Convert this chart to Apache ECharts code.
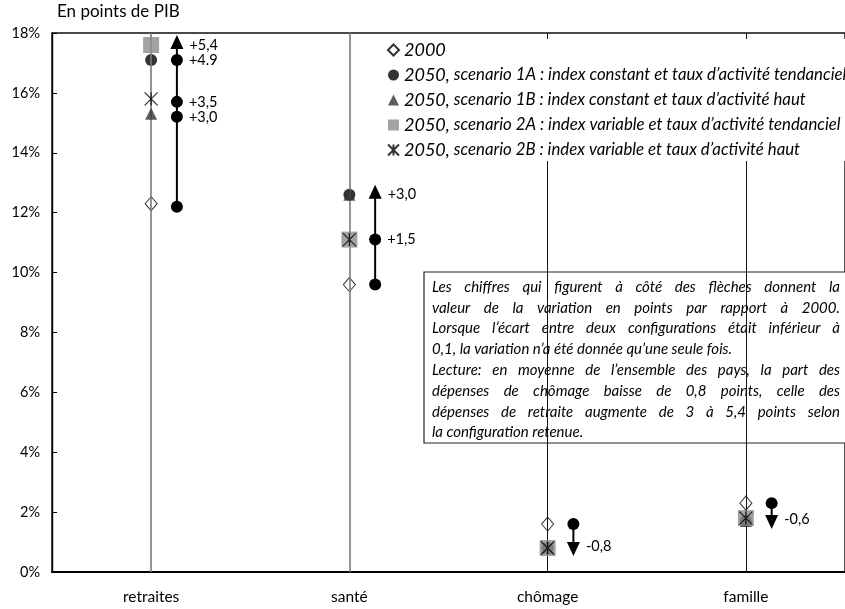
<!DOCTYPE html>
<html><head><meta charset="utf-8">
<script src="https://cdn.jsdelivr.net/npm/echarts@6/dist/echarts.min.js"></script>
<style>html,body{margin:0;padding:0;background:#fff}#c{width:845px;height:609px}</style>
</head><body><div id="c"></div>
<script>
// ---- data ----
const categories = ['retraites', 'santé', 'chômage', 'famille'];
const seriesNames = [
  '2000',
  '2050, scenario 1A : index constant et taux d’activité tendanciel',
  '2050, scenario 1B : index constant et taux d’activité haut',
  '2050, scenario 2A : index variable et taux d’activité tendanciel',
  '2050, scenario 2B : index variable et taux d’activité haut'
];
const v2000 = [12.3, 9.6, 1.6, 2.3];
const s1A = [17.1, 12.6, 0.8, 1.7];
const s1B = [15.3, 12.6, 0.8, 1.7];
const s2A = [17.6, 11.1, 0.8, 1.8];
const s2B = [15.8, 11.1, 0.8, 1.8];
const arrowStart = [12.2, 9.6, 1.6, 2.3];
const arrowSteps = [[15.2, 15.7, 17.1], [11.1], [], []];
const arrowEnd = [17.6, 12.6, 0.8, 1.7];
const arrowLabels = [['+3,0', '+3,5', '+4.9', '+5,4'], ['+1,5', '+3,0'], ['-0,8'], ['-0,6']];
const yMin = 0, yMax = 18, yStep = 2;
const yTitle = 'En points de PIB';
const noteLines = [
  'Les chiffres qui figurent à côté des flèches donnent la',
  'valeur de la variation en points par rapport à 2000.',
  'Lorsque l’écart entre deux configurations était inférieur à',
  '0,1, la variation n’a été donnée qu’une seule fois.',
  'Lecture: en moyenne de l’ensemble des pays, la part des',
  'dépenses de chômage baisse de 0,8 points, celle des',
  'dépenses de retraite augmente de 3 à 5,4 points selon',
  'la configuration retenue.'
];
const paragraphEnds = [3, 7];

// ---- layout / style ----
const FONT = 'Lato';
const ARROW_DX = 0.13;
const chart = echarts.init(document.getElementById('c'));

const markerStyles = [
  {symbol: 'diamond', symbolSize: [12, 14], itemStyle: {color: '#fff', borderColor: '#000', borderWidth: 1}},
  {symbol: 'circle', symbolSize: 12, itemStyle: {color: '#000'}},
  {symbol: 'triangle', symbolSize: 12, itemStyle: {color: '#333'}},
  {symbol: 'rect', symbolSize: 16, itemStyle: {color: '#8c8c8c'}},
  {symbol: 'path://M0,0L10,10M10,0L0,10M5,0L5,10', symbolSize: 13, itemStyle: {color: 'rgba(0,0,0,0)', borderColor: '#000', borderWidth: 1.3}}
];
const markerData = [v2000, s1A, s1B, s2A, s2B];

const series = [];
series.push({
  type: 'line', data: [], z: 1, silent: true,
  markLine: {
    silent: true, symbol: ['none', 'none'], label: {show: false}, animation: false,
    data: categories.map((c, i) => ({xAxis: c, lineStyle: {type: 'solid', color: i < 2 ? '#7a7a7a' : '#111', width: i < 2 ? 1.6 : 1}}))
  }
});
markerData.forEach((arr, k) => {
  series.push(Object.assign({
    type: 'scatter', name: seriesNames[k], xAxisIndex: 0, yAxisIndex: 0, z: 3 + k,
    data: arr
  }, markerStyles[k]));
});
categories.forEach((c, i) => {
  const x = i + 0.5 + ARROW_DX;
  const up = arrowEnd[i] > arrowStart[i];
  const data = [{value: [x, arrowStart[i]], symbol: 'circle', symbolSize: 12, label: {show: false}}];
  arrowSteps[i].forEach((v, k) => data.push({
    value: [x, v], symbol: 'circle', symbolSize: 12,
    label: {show: true, formatter: arrowLabels[i][k]}
  }));
  data.push({
    value: [x, arrowEnd[i]], symbol: 'triangle', symbolSize: [13, 14], symbolRotate: up ? 0 : 180,
    symbolOffset: [0, up ? -3 : 1],
    label: {show: true, formatter: arrowLabels[i][arrowSteps[i].length], offset: [0, up ? 3 : -3]}
  });
  series.push({
    type: 'line', xAxisIndex: 1, yAxisIndex: 0, z: 10, data: data,
    lineStyle: {color: '#000', width: 2}, itemStyle: {color: '#000'},
    label: {position: 'right', distance: 6, color: '#000', fontSize: 14.5, fontFamily: FONT}
  });
});

const measure = document.createElement('canvas').getContext('2d');
const NOTE_SIZE = 15;
measure.font = 'italic ' + NOTE_SIZE + 'px ' + FONT;
const noteLeft = 432, noteRight = 840, noteTop = 287, noteStep = 20.8;
const noteChildren = [{
  type: 'rect', shape: {x: 424, y: 272, width: 440, height: 171},
  style: {fill: '#fff', stroke: '#222', lineWidth: 1.2}
}];
noteLines.forEach((line, li) => {
  const words = line.split(' ');
  const widths = words.map(w => measure.measureText(w).width);
  const total = widths.reduce((a, b) => a + b, 0);
  const sp = measure.measureText(' ').width;
  const justify = paragraphEnds.indexOf(li) < 0;
  const gap = justify ? Math.max(sp * 0.6, (noteRight - noteLeft - total) / (words.length - 1)) : sp;
  let x = noteLeft;
  words.forEach((w, wi) => {
    noteChildren.push({
      type: 'text', x: x, y: noteTop + li * noteStep,
      style: {text: w, fontSize: NOTE_SIZE, fontStyle: 'italic', fontFamily: FONT, fill: '#000', verticalAlign: 'middle', align: 'left'}
    });
    x += widths[wi] + gap;
  });
});

chart.setOption({
  animation: false,
  backgroundColor: '#fff',
  title: {text: yTitle, left: 57, top: 3, padding: 0, textStyle: {fontSize: 17, fontWeight: 'normal', color: '#000', fontFamily: FONT}},
  grid: {left: 52, top: 33, bottom: 37, right: -13, show: true, borderColor: '#111', borderWidth: 1.4, backgroundColor: 'transparent'},
  legend: {
    data: seriesNames, orient: 'vertical', left: 382, top: 39, padding: [2, 5],
    itemWidth: 11, itemHeight: 11, itemGap: 7, backgroundColor: '#fff', z: 20,
    textStyle: {fontSize: 17, fontStyle: 'italic', color: '#000', fontFamily: FONT,
      rich: {y: {fontSize: 18, fontStyle: 'italic', fontFamily: FONT, color: '#000'}, t: {fontSize: 16.8, fontStyle: 'italic', fontFamily: FONT, color: '#000'}}},
    formatter: function (n) {
      if (n.indexOf('2050,') === 0) return '{y|2050,} {t|' + n.slice(6) + '}';
      return '{y|' + n + '}';
    }
  },
  xAxis: [
    {type: 'category', data: categories, boundaryGap: true,
      axisLine: {lineStyle: {color: '#000', width: 2}}, axisTick: {show: false},
      axisLabel: {fontSize: 15.5, color: '#000', fontFamily: FONT, margin: 17}, splitLine: {show: false}},
    {type: 'value', min: 0, max: categories.length, show: false, splitLine: {show: false}}
  ],
  yAxis: [{
    type: 'value', min: yMin, max: yMax, interval: yStep,
    axisLine: {show: true, lineStyle: {color: '#000', width: 1.4}},
    axisTick: {show: true, inside: true, length: 5, lineStyle: {color: '#000'}},
    axisLabel: {formatter: '{value}%', fontSize: 14.5, color: '#000', fontFamily: FONT, margin: 12},
    splitLine: {show: false}
  }],
  series: series,
  graphic: [{type: 'group', z: 100, children: noteChildren}]
});
</script>
</body></html>
